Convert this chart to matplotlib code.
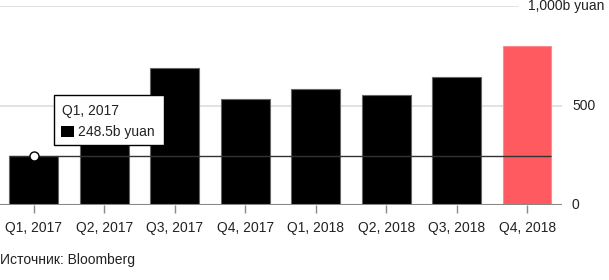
"""
Quarterly bar chart, billions of yuan. Source: Bloomberg.
"""
import matplotlib
matplotlib.use("Agg")
import matplotlib.pyplot as plt
from matplotlib.patches import Rectangle

quarters = ["Q1, 2017", "Q2, 2017", "Q3, 2017", "Q4, 2017",
            "Q1, 2018", "Q2, 2018", "Q3, 2018", "Q4, 2018"]
values = [248.5, 420, 687, 532, 582, 552, 642, 801]
highlight = "Q4, 2018"
y_ticks = [0, 500, 1000]
y_tick_labels = ["0", "500", "1,000b yuan"]
source = "Источник: Bloomberg"


def main():
    plt.rcParams['font.family'] = ['Liberation Sans', 'DejaVu Sans']
    plt.rcParams['font.size'] = 10

    fig = plt.figure(figsize=(6.09, 2.80), dpi=100)
    ax = fig.add_axes([0.0, 0.2664, 562 / 609, 0.7121])

    x = list(range(len(quarters)))
    colors = ["#ff5a5f" if q == highlight else "black" for q in quarters]
    edges = ["#ff8a8d" if q == highlight else "#666666" for q in quarters]

    # gridlines behind the bars
    ax.axhline(500, color="#dddddd", lw=1.2, zorder=0)
    ax.axhline(1000, xmax=518 / 562, color="#dddddd", lw=1.2, zorder=0)

    ax.bar(x, values, width=0.69, color=colors, edgecolor=edges,
           linewidth=0.8, zorder=2)

    ax.axhline(0, color="#888888", lw=1.5, zorder=3)

    # hover line + marker for the first quarter
    ax.hlines(values[0], -0.345, len(quarters) - 1 + 0.345,
              color="#333333", lw=1, zorder=4)
    ax.plot(x[0], values[0], "o", ms=6.5, mfc="white", mec="black",
            mew=1, zorder=5)

    # tooltip box
    ax.add_patch(Rectangle((0.288, 303), 1.56, 251, facecolor="white",
                           edgecolor="black", lw=1, zorder=6))
    ax.text(0.40, 475, quarters[0], ha="left", va="center",
            color="#222222", zorder=7)
    ax.add_patch(Rectangle((0.387, 342), 0.185, 56, facecolor="black",
                           edgecolor="none", zorder=7))
    ax.text(0.625, 370, str(values[0]) + "b yuan", ha="left", va="center",
            color="#222222", zorder=7)

    ax.set_xlim(-0.478, 7.494)
    ax.set_ylim(0, 1000)
    for s in ax.spines.values():
        s.set_visible(False)

    ax.set_xticks(x)
    ax.set_xticklabels(quarters, color="#222222")
    ax.tick_params(axis="x", length=6, width=1, color="#888888", pad=5)
    ax.set_yticks([])

    for t, lab in zip(y_ticks, y_tick_labels):
        if t == 1000:
            ax.text(528 / 562, t, lab, transform=ax.get_yaxis_transform(),
                    ha="left", va="center", color="#222222", clip_on=False)
        else:
            ax.text(572 / 562, t, lab, transform=ax.get_yaxis_transform(),
                    ha="left", va="center", color="#222222", clip_on=False)

    fig.text(0.0, 1 - 260 / 280, source, ha="left", va="center",
             color="#222222")

    fig.savefig("out.png", dpi=100)


if __name__ == "__main__":
    main()
